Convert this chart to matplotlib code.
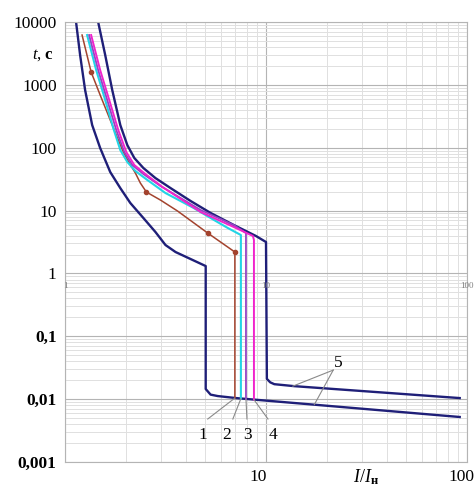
import matplotlib
matplotlib.use("Agg")
import matplotlib.pyplot as plt
from matplotlib.ticker import LogLocator, NullFormatter, FixedLocator, FixedFormatter

plt.rcParams['font.family'] = ['Liberation Serif', 'DejaVu Serif']
plt.rcParams['mathtext.fontset'] = 'custom'
plt.rcParams['mathtext.rm'] = 'Liberation Serif'
plt.rcParams['mathtext.it'] = 'Liberation Serif:italic'
plt.rcParams['mathtext.bf'] = 'Liberation Serif:bold'

# ---- data (I/In, t in s) ----
c5_low_x = [1.135, 1.189, 1.259, 1.365, 1.496, 1.679, 1.884, 2.113, 2.455, 2.818, 3.162, 3.548,
            5.012, 5.012, 5.3, 5.75, 7.1, 92]
c5_low_y = [10000, 2981, 827, 229.6, 98.9, 41, 22.8, 13.2, 7.61, 4.56, 2.83, 2.19,
            1.31, 0.0145, 0.0118, 0.0112, 0.0104, 0.0052]

c5_up_x = [1.462, 1.585, 1.718, 1.884, 2.042, 2.213, 2.455, 2.818, 3.35, 4.217, 5.309, 6.918, 8.913, 10.0,
           10.1, 10.5, 11.0, 13.8, 92]
c5_up_y = [10000, 2981, 827, 229.6, 110, 68.5, 47.5, 32.9, 22.8, 14.2, 9.14, 5.89, 3.94, 3.16,
           0.021, 0.0185, 0.0173, 0.0161, 0.0104]

c1_x = [1.216, 1.349, 1.496, 1.641, 1.799, 1.95, 2.089, 2.239, 2.371, 2.541, 2.985, 3.631, 4.315, 5.129, 7.0, 7.0]
c1_y = [6205, 1600, 689, 331, 159, 85.4, 57, 39.6, 27.4, 19.7, 14.7, 9.83, 6.57, 4.39, 2.19, 0.0104]
c1_mx = [1.349, 2.541, 5.129, 7.0]
c1_my = [1600, 19.7, 4.39, 2.19]

c2_x = [1.288, 1.429, 1.585, 1.738, 1.884, 2.042, 2.239, 2.57, 3.162, 4.365, 5.623, 6.457, 7.5, 7.5]
c2_y = [6205, 1721, 574, 205.7, 91.9, 59.2, 42.6, 30.6, 19.0, 11.0, 6.82, 5.28, 4.08, 0.0102]

c3_x = [1.318, 1.462, 1.622, 1.799, 1.972, 2.163, 2.455, 2.985, 4.732, 6.918, 7.95, 7.95]
c3_y = [6205, 1721, 574, 191, 85.4, 53, 38.1, 24.6, 10.2, 5.89, 4.39, 0.0100]

c4_x = [1.349, 1.496, 1.66, 1.841, 2.018, 2.213, 2.512, 3.055, 4.732, 6.918, 8.61, 8.71, 8.71]
c4_y = [6205, 1721, 574, 191, 85.4, 53, 38.1, 23.7, 9.48, 5.47, 3.94, 3.4, 0.0098]

y_ticks = [10000, 1000, 100, 10, 1, 0.1, 0.01, 0.001]
y_labels = ["10000", "1000", "100", "10", "1", "0,1", "0,01", "0,001"]
curve_labels = ["1", "2", "3", "4"]

NAVY = "#1f1f78"
BROWN = "#a3432e"
CYAN = "#22d4e6"
VIOLET = "#9444c4"
MAGENTA = "#f024cc"

fig = plt.figure(figsize=(4.75, 4.86), dpi=100)
ax = fig.add_axes([65/475, (486-462)/486, 402/475, 440/486])
ax.set_xscale('log')
ax.set_yscale('log')
ax.set_xlim(1, 100)
ax.set_ylim(0.001, 10000)

# grid
ax.xaxis.set_major_locator(FixedLocator([1, 10, 100]))
ax.xaxis.set_minor_locator(LogLocator(base=10, subs=range(2, 10)))
ax.yaxis.set_major_locator(FixedLocator(y_ticks))
ax.yaxis.set_major_formatter(FixedFormatter(y_labels))
ax.yaxis.set_minor_locator(LogLocator(base=10, subs=range(2, 10), numticks=20))
ax.xaxis.set_major_formatter(NullFormatter())
ax.xaxis.set_minor_formatter(NullFormatter())
ax.yaxis.set_minor_formatter(NullFormatter())
ax.grid(which='major', color='#b4b4b4', lw=0.8)
ax.grid(which='minor', color='#e0e0e0', lw=0.7)
ax.set_axisbelow(True)
ax.tick_params(which='both', length=0)
ax.tick_params(axis='y', pad=6, labelsize=12.5)
for lab in ax.get_yticklabels():
    if lab.get_text().startswith("0,"):
        lab.set_fontweight('bold')
for s in ax.spines.values():
    s.set_color('#b4b4b4')
    s.set_linewidth(0.8)

# curves
ax.plot(c5_low_x, c5_low_y, color=NAVY, lw=1.7)
ax.plot(c5_up_x, c5_up_y, color=NAVY, lw=1.7)
ax.plot(c1_x, c1_y, color=BROWN, lw=1.1)
ax.plot(c1_mx, c1_my, 'o', color=BROWN, ms=3)
ax.plot(c2_x, c2_y, color=CYAN, lw=1.5)
ax.plot(c3_x, c3_y, color=VIOLET, lw=1.3)
ax.plot(c4_x, c4_y, color=MAGENTA, lw=1.4)

# small in-plot x labels
for xv, s in [(1, "1"), (10, "10"), (100, "100")]:
    ax.text(xv, 0.62, s, fontsize=6.5, color='#808080', ha='center', va='center')

# bottom labels
xt = ax.get_xaxis_transform()
ax.text(9.1, -0.034, "10", transform=xt, ha='center', va='center', fontsize=12.5, clip_on=False)
fig.text(474/475, 1 - 477/486, "100", ha='right', va='center', fontsize=12.5)
ax.text(27.0, -0.034, r"$\mathit{I/I}_{\mathbf{н}}$", transform=xt, ha='left', va='center',
        fontsize=13, clip_on=False)

# y label
fig.text(43/475, 1 - 55/486, r"$\mathit{t}$, $\mathbf{с}$", ha='center', va='center', fontsize=12)

# leader lines for curves 1-4
ends = [(c1_x[-1], c1_y[-1]), (c2_x[-1], c2_y[-1]), (c3_x[-1], c3_y[-1]), (c4_x[-1], c4_y[-1])]
lab_x = [4.84, 6.38, 8.13, 10.84]
line_x = [5.13, 6.84, 8.04, 10.23]
for (ex, ey), lx, tx, s in zip(ends, line_x, lab_x, curve_labels):
    ax.plot([lx, ex], [0.00483, ey], color='#8a8a8a', lw=0.8)
    ax.text(tx, 0.0027, s, ha='center', va='center', fontsize=12.5)

# label 5
ax.text(22.9, 0.0376, "5", ha='center', va='center', fontsize=12.5)
ax.plot([21.6, 13.6], [0.029, 0.0161], color='#8a8a8a', lw=0.8)
ax.plot([21.6, 17.4], [0.029, 0.0082], color='#8a8a8a', lw=0.8)

fig.savefig("out.png", dpi=100)
